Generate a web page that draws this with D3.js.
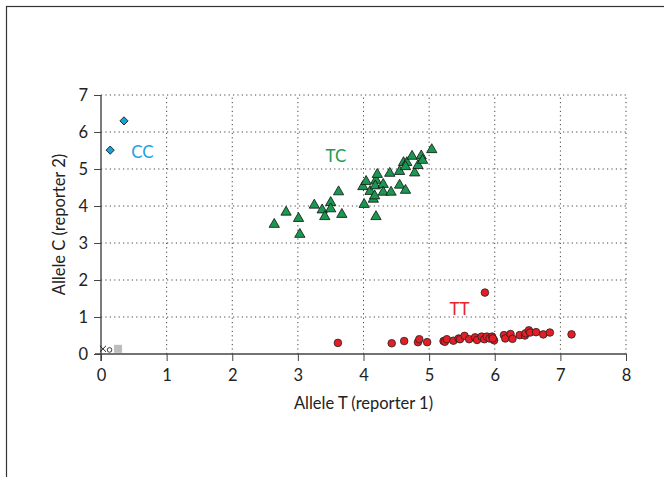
<!DOCTYPE html>
<html>
<head>
<meta charset="utf-8">
<script src="https://cdn.jsdelivr.net/npm/d3@7"></script>
<style>
  body { margin: 0; background: #fff; }
  svg { display: block; font-family: Lato, "Open Sans", sans-serif; }
</style>
</head>
<body>
<svg id="chart" width="664" height="477"></svg>
<script>
// genotype clusters, [allele T, allele C]
const ccPoints = [[0.35, 6.30], [0.14, 5.51]]
const tcPoints = [
  [2.64, 3.53], [2.82, 3.86], [3.01, 3.69], [3.03, 3.26], [3.25, 4.05],
  [3.37, 3.92], [3.41, 3.74], [3.50, 4.12], [3.50, 3.95], [3.62, 4.41],
  [3.67, 3.80], [3.99, 4.55], [4.04, 4.69], [4.01, 4.07], [4.10, 4.42],
  [4.15, 4.21], [4.19, 3.74], [4.19, 4.72], [4.21, 4.88], [4.18, 4.57],
  [4.17, 4.30], [4.30, 4.61], [4.30, 4.40], [4.40, 4.91], [4.42, 4.40],
  [4.55, 4.96], [4.55, 4.59], [4.64, 4.45], [4.61, 5.20], [4.66, 5.20],
  [4.64, 5.09], [4.74, 5.37], [4.78, 4.92], [4.83, 5.12], [4.88, 5.38],
  [4.90, 5.26], [5.04, 5.55]
]
const ttPoints = [
  [3.61, 0.30], [4.43, 0.29], [4.62, 0.35], [4.83, 0.32], [4.85, 0.40],
  [4.97, 0.32], [5.22, 0.35], [5.24, 0.33], [5.27, 0.40], [5.37, 0.36],
  [5.45, 0.42], [5.47, 0.40], [5.54, 0.49], [5.61, 0.40], [5.70, 0.45],
  [5.73, 0.38], [5.80, 0.47], [5.84, 0.40], [5.88, 0.47], [5.92, 0.42],
  [5.96, 0.47], [5.99, 0.37], [5.97, 0.42], [5.85, 1.66], [6.14, 0.51],
  [6.16, 0.42], [6.24, 0.54], [6.27, 0.41], [6.38, 0.51], [6.46, 0.50],
  [6.47, 0.56], [6.52, 0.64], [6.54, 0.58], [6.63, 0.59], [6.74, 0.53],
  [6.84, 0.58], [7.17, 0.53]
]
const noCallX = [[0.03, 0.14]]
const noCallO = [[0.13, 0.11]]
const noTemplate = [[0.26, 0.14]]

const xTicks = [0, 1, 2, 3, 4, 5, 6, 7, 8]
const yTicks = [0, 1, 2, 3, 4, 5, 6, 7]
const labels = [
  { text: 'CC', at: [0.46, 5.3], color: '#1ba3de' },
  { text: 'TC', at: [3.42, 5.2], color: '#1f9a4f' },
  { text: 'TT', at: [5.31, 1.05], color: '#e8232b' }
]

const svg = d3.select('#chart')

// outer frame (only top and left are visible)
svg.append('rect')
  .attr('x', 6.5).attr('y', 6.5)
  .attr('width', 700).attr('height', 500)
  .attr('fill', 'none').attr('stroke', '#333').attr('stroke-width', 1.2)

const x = d3.scaleLinear().domain([0, 8]).range([101, 626])
const y = d3.scaleLinear().domain([0, 7]).range([354, 95])

// dotted grid
svg.append('g').selectAll('line')
  .data(yTicks.filter(d => d > 0))
  .join('line')
    .attr('x1', x(0)).attr('x2', x(8))
    .attr('y1', d => y(d)).attr('y2', d => y(d))
    .attr('stroke', '#444').attr('stroke-dasharray', '1.2,3.2')
svg.append('g').selectAll('line')
  .data(xTicks.filter(d => d > 0))
  .join('line')
    .attr('x1', d => x(d)).attr('x2', d => x(d))
    .attr('y1', y(0)).attr('y2', y(7))
    .attr('stroke', '#444').attr('stroke-dasharray', '1.2,3.2')

const xAxis = svg.append('g')
  .attr('transform', `translate(0,${y(0)})`)
  .call(d3.axisBottom(x).tickValues(xTicks).tickFormat(d3.format('d')).tickSize(7).tickPadding(8))
const yAxis = svg.append('g')
  .attr('transform', `translate(${x(0)},0)`)
  .call(d3.axisLeft(y).tickValues(yTicks).tickFormat(d3.format('d')).tickSize(7).tickPadding(6))

for (const ax of [xAxis, yAxis]) {
  ax.select('.domain').remove()
  ax.selectAll('line').attr('stroke', '#444')
  ax.selectAll('text').attr('font-size', '16.5px').attr('fill', '#222')
    .attr('font-family', 'Lato, sans-serif')
}
svg.append('line')
  .attr('x1', x(0) - 6).attr('x2', x(8))
  .attr('y1', y(0)).attr('y2', y(0))
  .attr('stroke', '#444').attr('stroke-width', 1.4)
svg.append('line')
  .attr('x1', x(0)).attr('x2', x(0))
  .attr('y1', y(7)).attr('y2', y(0) + 7)
  .attr('stroke', '#444').attr('stroke-width', 1.4)

svg.append('text')
  .attr('transform', `translate(${(x(0) + x(8)) / 2},409)`)
  .attr('text-anchor', 'middle')
  .attr('font-size', '16.5px').attr('fill', '#222')
  .text('Allele T (reporter 1)')

svg.append('text')
  .attr('transform', `translate(65,${(y(0) + y(7)) / 2})rotate(-90)`)
  .attr('text-anchor', 'middle')
  .attr('font-size', '16.5px').attr('fill', '#222')
  .text('Allele C (reporter 2)')

// markers
svg.append('g').selectAll('path')
  .data(tcPoints)
  .join('path')
    .attr('d', d3.symbol(d3.symbolTriangle, 46))
    .attr('transform', d => `translate(${x(d[0])},${y(d[1]) + 1})`)
    .attr('fill', '#1a9750').attr('stroke', '#111').attr('stroke-width', 0.8)

svg.append('g').selectAll('circle')
  .data(ttPoints)
  .join('circle')
    .attr('cx', d => x(d[0])).attr('cy', d => y(d[1]))
    .attr('r', 3.8)
    .attr('fill', '#e31e26').attr('stroke', '#222').attr('stroke-width', 0.8)

svg.append('g').selectAll('path')
  .data(ccPoints)
  .join('path')
    .attr('d', d3.symbol(d3.symbolSquare, 34))
    .attr('transform', d => `translate(${x(d[0])},${y(d[1])})rotate(45)`)
    .attr('fill', '#1b9fd9').attr('stroke', '#111').attr('stroke-width', 0.8)

svg.append('g').selectAll('rect')
  .data(noTemplate)
  .join('rect')
    .attr('x', d => x(d[0]) - 4).attr('y', d => y(d[1]) - 4)
    .attr('width', 8).attr('height', 8)
    .attr('fill', '#bdbdbd')

svg.append('g').selectAll('path')
  .data(noCallX)
  .join('path')
    .attr('d', d3.symbol(d3.symbolX, 26))
    .attr('transform', d => `translate(${x(d[0])},${y(d[1])})`)
    .attr('fill', 'none').attr('stroke', '#222').attr('stroke-width', 1)

svg.append('g').selectAll('circle')
  .data(noCallO)
  .join('circle')
    .attr('cx', d => x(d[0])).attr('cy', d => y(d[1]))
    .attr('r', 2.3)
    .attr('fill', 'none').attr('stroke', '#222').attr('stroke-width', 0.9)

svg.append('g').selectAll('text')
  .data(labels)
  .join('text')
    .attr('x', d => x(d.at[0])).attr('y', d => y(d.at[1]))
    .attr('font-size', '17px')
    .attr('fill', d => d.color)
    .text(d => d.text)
</script>
</body>
</html>
